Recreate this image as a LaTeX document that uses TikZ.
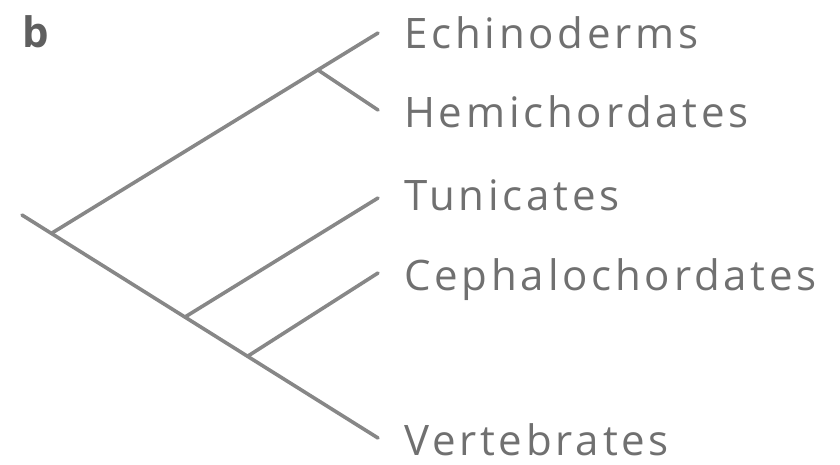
\documentclass[tikz,border=0pt]{standalone}
\usepackage{fontspec}
\setmainfont{Open Sans}[LetterSpace=9]
\newfontfamily\labfont{Open Sans}
\definecolor{txtgray}{RGB}{112,112,112}
\definecolor{lingray}{RGB}{135,135,135}
\begin{document}
\begin{tikzpicture}[x=1pt,y=-1pt,
  branch/.style={draw=lingray,line width=3.6pt,line cap=round},
  taxon/.style={anchor=base west,inner sep=0pt,text=txtgray,font=\fontsize{42}{46}\selectfont},
  panel/.style={anchor=base west,inner sep=0pt,text=txtgray!85!black,font=\labfont\bfseries\fontsize{42}{46}\selectfont}]
\useasboundingbox (0,0) rectangle (840,464);
% label
\node[panel] (lab) at (22,47) {b};
% coordinates
\coordinate (root) at (22,215);
\coordinate (n1) at (52,233);
\coordinate (n2) at (185,317);
\coordinate (n3) at (248,356);
\coordinate (n4) at (318,70);
\coordinate (tE) at (378,33);
\coordinate (tH) at (378,110);
\coordinate (tT) at (378,198);
\coordinate (tC) at (378,273);
\coordinate (tV) at (378,438);
% branches
\draw[branch] (root) -- (tV);
\draw[branch] (n1) -- (tE);
\draw[branch] (n4) -- (tH);
\draw[branch] (n2) -- (tT);
\draw[branch] (n3) -- (tC);
% taxa
\node[taxon] (E) at (404,48) {Echinoderms};
\node[taxon] (H) at (404,127) {Hemichordates};
\node[taxon] (T) at (404,210) {Tunicates};
\node[taxon] (C) at (404,290) {Cephalochordates};
\node[taxon] (V) at (404,455) {Vertebrates};
\end{tikzpicture}
\end{document}
